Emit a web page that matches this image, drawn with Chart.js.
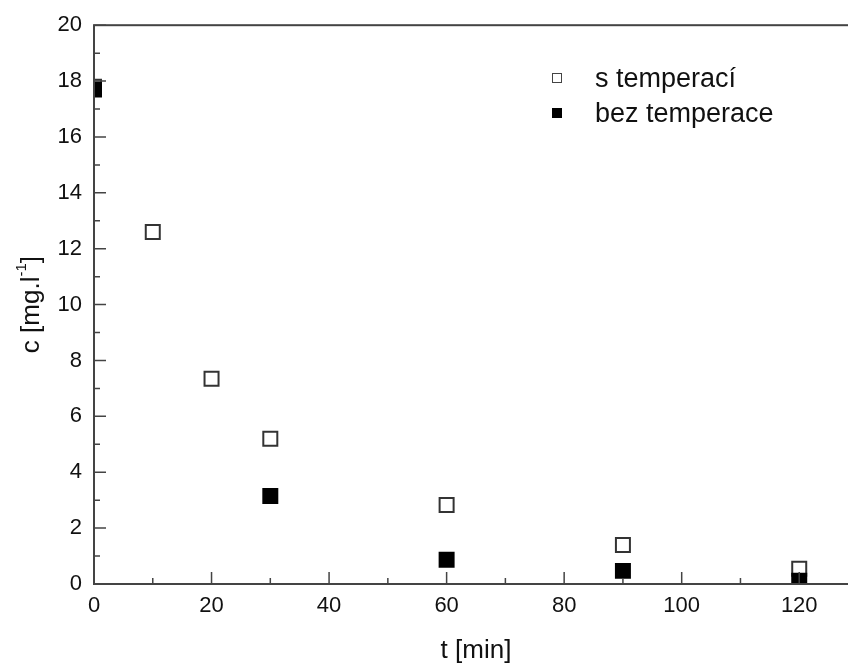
<!DOCTYPE html>
<html>
<head>
<meta charset="utf-8">
<script src="https://cdn.jsdelivr.net/npm/chart.js@4"></script>
<style>
  html, body { margin: 0; padding: 0; background: #fff; }
  #wrap { width: 848px; height: 666px; overflow: hidden; }
</style>
</head>
<body>
<div id="wrap"><canvas id="kinChart" width="880" height="666"></canvas></div>
<script>
// data
const times = [0, 10, 20, 30, 60, 90, 120];
const sTemperaci = [17.8, 12.6, 7.35, 5.2, 2.83, 1.4, 0.55];
const timesBez = [0, 30, 60, 90, 120];
const bezTemperace = [17.7, 3.15, 0.87, 0.47, 0.12];
const xTicks = [0, 20, 40, 60, 80, 100, 120];
const yTicks = [0, 2, 4, 6, 8, 10, 12, 14, 16, 18, 20];

const FONT = '"Liberation Sans", Arial, sans-serif';
const INK = '#111';
const AXIS = '#444';

const toPoints = (xs, ys) => xs.map((x, i) => ({ x: x, y: ys[i] }));

// frame, inward ticks, titles and legend drawn by hand
const decor = {
  id: 'decor',
  afterDraw(chart) {
    const ctx = chart.ctx;
    const a = chart.chartArea;
    const xs = chart.scales.x, ys = chart.scales.y;
    ctx.save();
    ctx.strokeStyle = AXIS;
    ctx.lineWidth = 2;
    ctx.strokeRect(a.left, a.top, a.right - a.left, a.bottom - a.top);

    ctx.lineWidth = 1.5;
    ctx.beginPath();
    for (let v = 0; v <= 130; v += 10) {
      const px = xs.getPixelForValue(v);
      const len = v % 20 === 0 ? 12 : 6;
      ctx.moveTo(px, a.bottom);
      ctx.lineTo(px, a.bottom - len);
    }
    for (let v = 0; v <= 20; v += 1) {
      const py = ys.getPixelForValue(v);
      const len = v % 2 === 0 ? 12 : 6;
      ctx.moveTo(a.left, py);
      ctx.lineTo(a.left + len, py);
    }
    ctx.stroke();

    // x title
    ctx.fillStyle = INK;
    ctx.font = '26px ' + FONT;
    ctx.textAlign = 'center';
    ctx.textBaseline = 'middle';
    ctx.fillText('t [min]', (a.left + a.right) / 2, 651);

    // y title with superscript
    ctx.save();
    ctx.translate(30, (a.top + a.bottom) / 2);
    ctx.rotate(-Math.PI / 2);
    ctx.textAlign = 'left';
    ctx.textBaseline = 'alphabetic';
    const p1 = 'c [mg.l', sup = '-1', p2 = ']';
    ctx.font = '26px ' + FONT;
    const w1 = ctx.measureText(p1).width, w2 = ctx.measureText(p2).width;
    ctx.font = '15px ' + FONT;
    const ws = ctx.measureText(sup).width;
    let x0 = -(w1 + ws + w2) / 2;
    ctx.font = '26px ' + FONT;
    ctx.fillText(p1, x0, 9);
    ctx.font = '15px ' + FONT;
    ctx.fillText(sup, x0 + w1, -4);
    ctx.font = '26px ' + FONT;
    ctx.fillText(p2, x0 + w1 + ws, 9);
    ctx.restore();

    // legend
    const rows = [
      { y: 78, fill: '#fff', stroke: AXIS, text: chart.data.datasets[0].label },
      { y: 113, fill: '#000', stroke: '#000', text: chart.data.datasets[1].label }
    ];
    ctx.font = '27px ' + FONT;
    ctx.textAlign = 'left';
    ctx.textBaseline = 'middle';
    rows.forEach(r => {
      ctx.fillStyle = r.fill;
      ctx.fillRect(552, r.y - 5, 10, 10);
      ctx.strokeStyle = r.stroke;
      ctx.lineWidth = 1;
      ctx.strokeRect(552.5, r.y - 4.5, 9, 9);
      ctx.fillStyle = INK;
      ctx.fillText(r.text, 595, r.y + 2);
    });
    ctx.restore();
  }
};

new Chart(document.getElementById('kinChart'), {
  type: 'scatter',
  data: {
    datasets: [
      {
        label: 's temperací',
        data: toPoints(times, sTemperaci),
        pointStyle: 'rect',
        pointRadius: 9.9,
        pointHoverRadius: 9.9,
        backgroundColor: '#fff',
        borderColor: '#333',
        borderWidth: 2,
        clip: 0,
        order: 2
      },
      {
        label: 'bez temperace',
        data: toPoints(timesBez, bezTemperace),
        pointStyle: 'rect',
        pointRadius: 11.3,
        pointHoverRadius: 11.3,
        backgroundColor: '#000',
        borderColor: '#000',
        borderWidth: 0,
        clip: 0,
        order: 1
      }
    ]
  },
  options: {
    responsive: false,
    animation: false,
    layout: { padding: { top: 24, right: 22, left: 0, bottom: 0 } },
    plugins: {
      legend: { display: false },
      tooltip: { enabled: false }
    },
    scales: {
      x: {
        type: 'linear',
        min: 0,
        max: 130,
        afterFit: s => { s.height = 82; },
        afterBuildTicks: s => { s.ticks = xTicks.map(v => ({ value: v })); },
        grid: { display: false, drawTicks: false },
        border: { display: false },
        ticks: { color: INK, font: { family: FONT, size: 22 }, padding: 9, maxRotation: 0 }
      },
      y: {
        type: 'linear',
        min: 0,
        max: 20,
        afterFit: s => { s.width = 94; },
        afterBuildTicks: s => { s.ticks = yTicks.map(v => ({ value: v })); },
        grid: { display: false, drawTicks: false },
        border: { display: false },
        ticks: { color: INK, font: { family: FONT, size: 22 }, padding: 12 }
      }
    }
  },
  plugins: [decor]
});
</script>
</body>
</html>
